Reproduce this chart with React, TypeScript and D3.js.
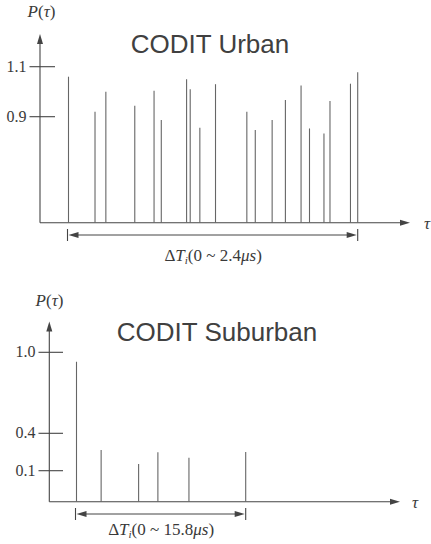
import React from "react";
import * as d3 from "d3";

// CODIT Urban: delay (us) and relative power
const urbanDelays = [0, 0.22, 0.31, 0.55, 0.71, 0.77, 0.98, 1.01, 1.09, 1.22, 1.48, 1.55, 1.69, 1.8, 1.93, 2.0, 2.12, 2.17, 2.34, 2.4];
const urbanPower = [1.06, 0.92, 1.0, 0.944, 1.004, 0.887, 1.05, 1.01, 0.856, 1.03, 0.92, 0.847, 0.887, 0.967, 1.025, 0.853, 0.833, 0.963, 1.032, 1.078];
const urbanTicks = [0.9, 1.1];

// CODIT Suburban
const suburbanDelays = [0, 2.3, 5.8, 7.6, 10.5, 15.8];
const suburbanPower = [0.93, 0.266, 0.154, 0.248, 0.204, 0.25];
const suburbanTicks = [0.1, 0.4, 1.0];

const serif = "'Liberation Serif', 'DejaVu Serif', serif";
const sans = "'Liberation Sans', Arial, sans-serif";
const axisColor = "#444";
const barColor = "#666";
const textColor = "#3a3a3a";

const ArrowHead = ({ x, y, dir }: { x: number; y: number; dir: "up" | "right" | "left" }) => {
  let d = "";
  if (dir === "up") d = `M${x},${y} L${x - 3},${y + 10} L${x + 3},${y + 10} Z`;
  if (dir === "right") d = `M${x},${y} L${x - 10},${y - 3} L${x - 10},${y + 3} Z`;
  if (dir === "left") d = `M${x},${y} L${x + 10},${y - 3} L${x + 10},${y + 3} Z`;
  return <path d={d} fill={axisColor} />;
};

const Panel = ({
  delays, power, ticks, xScale, yScale, axisX, axisTop, baseY, axisEnd,
  tickX0, tickX1, tickFont, title, titleX, titleY, pX, pY, tauX, tauY,
  rangeY, rangeLabel, rangeLabelY, fontSize,
}: any) => {
  const [r0, r1] = xScale.range();
  const mid = (r0 + r1) / 2;
  return (
    <g>
      <text x={pX} y={pY} fontFamily={serif} fontSize={17} fill={textColor} textAnchor="middle">
        <tspan fontStyle="italic">P</tspan>(<tspan fontStyle="italic">τ</tspan>)
      </text>
      <text x={titleX} y={titleY} fontFamily={sans} fontSize={26} fill="#404040" textAnchor="middle">{title}</text>
      {/* axes */}
      <line x1={axisX} x2={axisX} y1={baseY} y2={axisTop + 8} stroke={axisColor} strokeWidth={1.1} />
      <ArrowHead x={axisX} y={axisTop} dir="up" />
      <line x1={axisX} x2={axisEnd - 8} y1={baseY} y2={baseY} stroke={axisColor} strokeWidth={1.1} />
      <ArrowHead x={axisEnd} y={baseY} dir="right" />
      <text x={tauX} y={tauY} fontFamily={serif} fontStyle="italic" fontSize={17} fill={textColor} textAnchor="middle">τ</text>
      {ticks.map((t: number) => (
        <g key={t}>
          <line x1={tickX0} x2={tickX1} y1={yScale(t)} y2={yScale(t)} stroke={axisColor} strokeWidth={1.1} />
          <text x={tickX0 - 3} y={yScale(t) + 5} fontFamily={serif} fontSize={tickFont} fill={textColor} textAnchor="end">
            {t.toFixed(1)}
          </text>
        </g>
      ))}
      {/* impulses */}
      {delays.map((d: number, i: number) => (
        <line key={i} x1={xScale(d)} x2={xScale(d)} y1={baseY} y2={yScale(power[i])} stroke={barColor} strokeWidth={1.1} />
      ))}
      {/* delay span */}
      <line x1={r0 - 1} x2={r0 - 1} y1={rangeY - 6} y2={rangeY + 6} stroke={axisColor} strokeWidth={1.1} />
      <line x1={r1} x2={r1} y1={rangeY - 6} y2={rangeY + 6} stroke={axisColor} strokeWidth={1.1} />
      <line x1={r0 + 6} x2={r1 - 6} y1={rangeY} y2={rangeY} stroke={axisColor} strokeWidth={1} />
      <ArrowHead x={r0} y={rangeY} dir="left" />
      <ArrowHead x={r1 - 1} y={rangeY} dir="right" />
      <text x={mid} y={rangeLabelY} fontFamily={serif} fontSize={fontSize} fill={textColor} textAnchor="middle">
        Δ<tspan fontStyle="italic">T</tspan>
        <tspan fontStyle="italic" fontSize={fontSize * 0.65} dy={3}>i</tspan>
        <tspan dy={-3}>(0 ~ {rangeLabel}</tspan>
        <tspan fontStyle="italic">μs</tspan>)
      </text>
    </g>
  );
};

export default function App() {
  const xUrban = d3.scaleLinear().domain([0, 2.4]).range([68.5, 357.7]);
  const yUrban = d3.scaleLinear().domain([0.9, 1.1]).range([116.7, 66.7]);

  const xSub = d3.scaleLinear().domain([0, 15.8]).range([76.5, 245.7]);
  // the printed power axis is not evenly spaced, so a piecewise scale through the labelled ticks
  const ySub = d3.scaleLinear().domain([0.1, 0.4, 1.0]).range([470.7, 433.3, 352.3]);

  return (
    <svg width={431} height={544} style={{ position: "absolute", left: 0, top: 0 }}>
      <rect width={431} height={544} fill="#fff" />
      <Panel
        delays={urbanDelays} power={urbanPower} ticks={urbanTicks}
        xScale={xUrban} yScale={yUrban}
        axisX={40} axisTop={34} baseY={222.7} axisEnd={410}
        tickX0={29.5} tickX1={55} tickFont={16}
        title="CODIT Urban" titleX={210} titleY={53}
        pX={41.5} pY={17} tauX={427} tauY={229}
        rangeY={235} rangeLabel="2.4" rangeLabelY={261} fontSize={17}
      />
      <Panel
        delays={suburbanDelays} power={suburbanPower} ticks={suburbanTicks}
        xScale={xSub} yScale={ySub}
        axisX={49.3} axisTop={321.5} baseY={501.7} axisEnd={400}
        tickX0={38.5} tickX1={63} tickFont={16}
        title="CODIT Suburban" titleX={217} titleY={341}
        pX={49.5} pY={306} tauX={415} tauY={508}
        rangeY={514} rangeLabel="15.8" rangeLabelY={535} fontSize={17}
      />
    </svg>
  );
}
